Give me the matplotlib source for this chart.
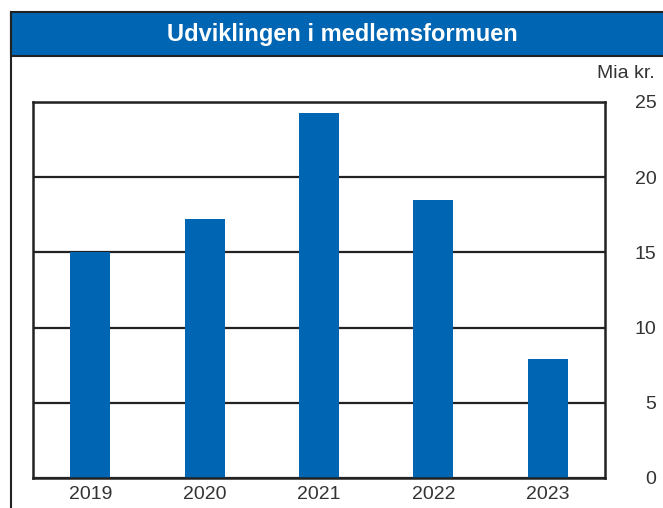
import matplotlib
matplotlib.use("Agg")
import matplotlib.pyplot as plt
from matplotlib.patches import Rectangle
from matplotlib.lines import Line2D

years = ["2019", "2020", "2021", "2022", "2023"]
values = [15.0, 17.2, 24.3, 18.5, 7.9]
yticks = [0, 5, 10, 15, 20, 25]
title = "Udviklingen i medlemsformuen"
unit = "Mia kr."

blue = "#0066b3"
W, H = 663, 508
fig = plt.figure(figsize=(W/100, H/100), dpi=100)
plt.rcParams['font.family'] = ['Liberation Sans', 'DejaVu Sans']

# title band
fig.patches.append(Rectangle((11/W, 1-56/H), 1, 44/H, transform=fig.transFigure,
                             facecolor=blue, edgecolor="#222222", linewidth=1.5, zorder=1))
fig.lines.append(Line2D([11/W, 11/W], [0, 1-12/H], transform=fig.transFigure,
                        color="#222222", linewidth=1.5))
fig.text(342/W, 1-35/H, title, color="white", fontsize=17, fontweight="bold",
         ha="center", va="center")

ax = fig.add_axes([33/W, 1-478/H, (605-33)/W, (478-102)/H])
x = range(len(years))
ax.bar(x, values, width=0.35, color=blue, zorder=2)
ax.set_xlim(-0.5, 4.5)
ax.set_ylim(0, 25)
ax.set_yticks(yticks)
ax.set_xticks(list(x))
ax.set_xticklabels(years)
ax.yaxis.tick_right()
ax.tick_params(axis="both", length=0, labelsize=14, labelcolor="#333333")
ax.tick_params(axis="y", pad=37)
for lab in ax.get_yticklabels():
    lab.set_horizontalalignment("right")
ax.tick_params(axis="x", pad=6)
ax.grid(axis="y", color="#222222", linewidth=1.6, zorder=1)
ax.set_axisbelow(True)
for s in ax.spines.values():
    s.set_color("#222222")
    s.set_linewidth(1.8)
fig.text(655/W, 1-73/H, unit, fontsize=14, color="#333333", ha="right", va="center")

fig.savefig("out.png", dpi=100)
